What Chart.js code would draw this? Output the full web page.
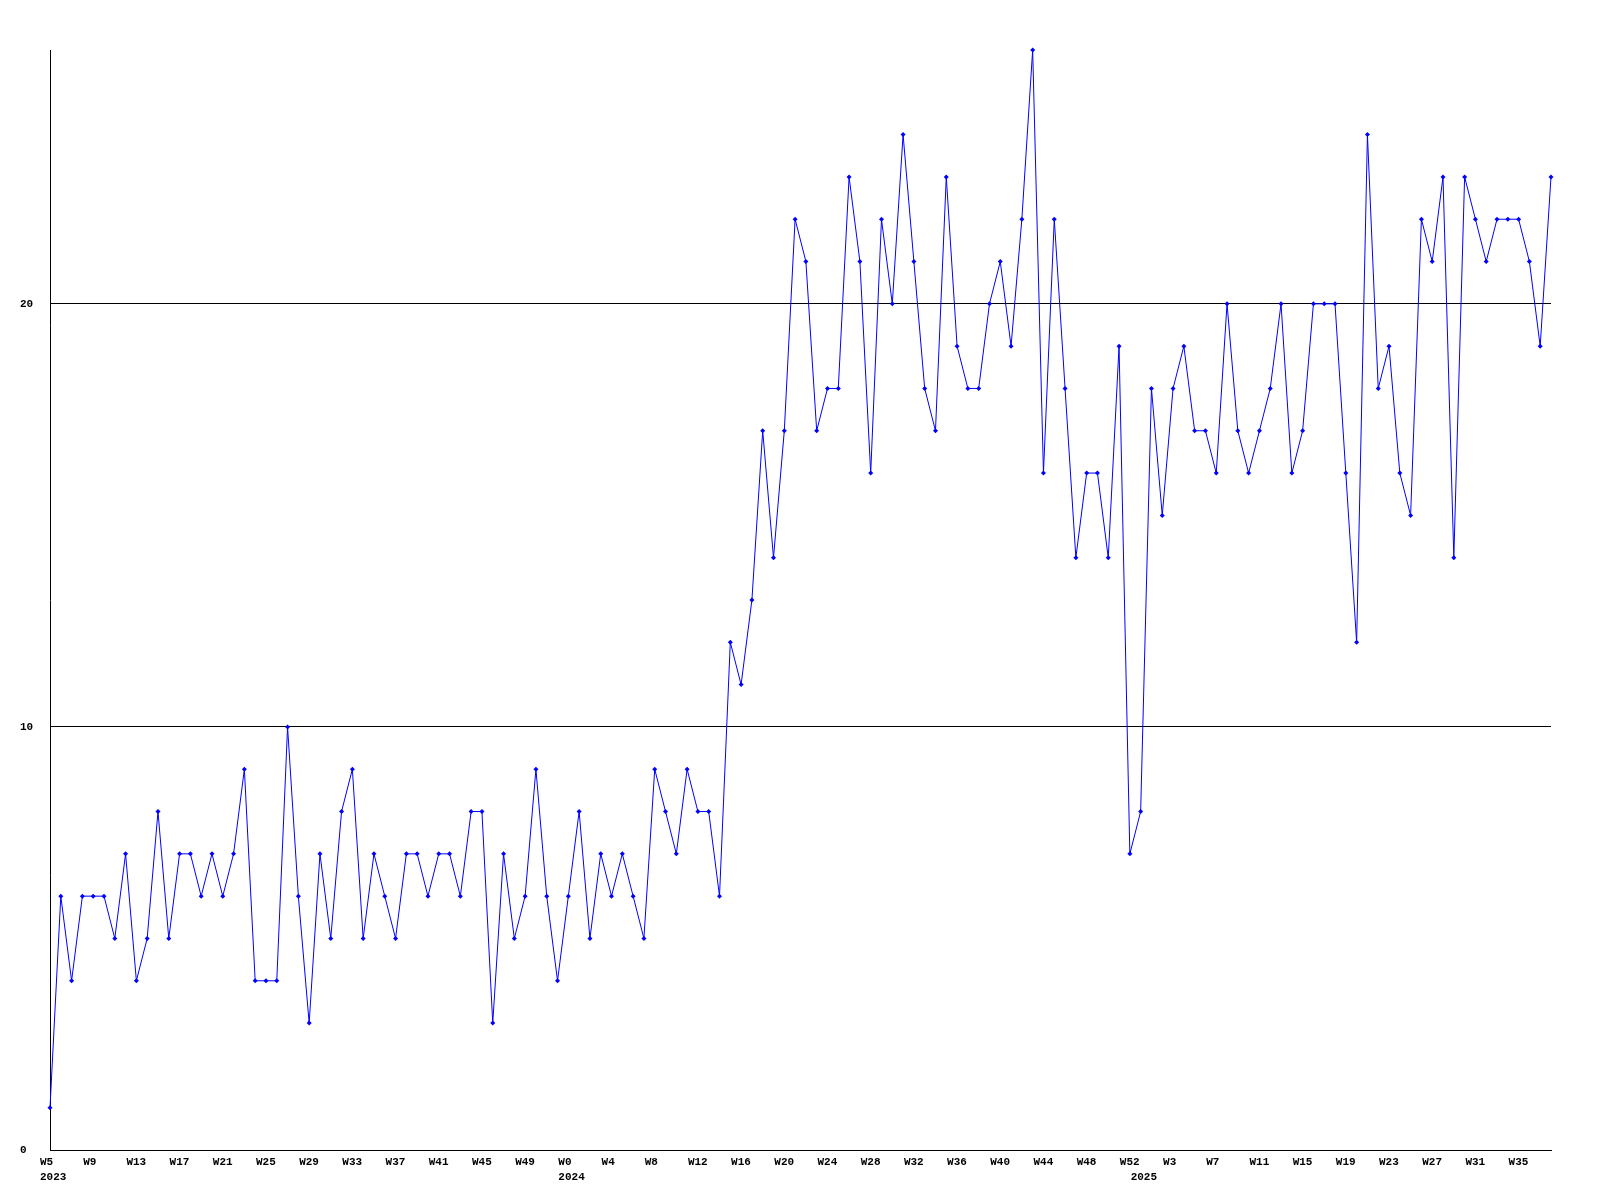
<!DOCTYPE html>
<html>
<head>
<meta charset="utf-8">
<title>Weekly count</title>
<script src="https://cdn.jsdelivr.net/npm/chart.js@4/dist/chart.umd.min.js"></script>
<style>
    body { margin: 0; background: #fff; }
    canvas { display: block; }
</style>
</head>
<body>
<canvas id="weeklyChart" width="1600" height="1200"></canvas>
<script>
// Weeks covered per year
const years = ['2023', '2024', '2025'];
const firstWeek = [5, 0, 0];
const lastWeek = [52, 52, 38];

// Weekly values, one array per year
const values2023 = [1, 6, 4, 6, 6, 6, 5, 7, 4, 5, 8, 5, 7, 7, 6, 7, 6, 7, 9, 4,
    4, 4, 10, 6, 3, 7, 5, 8, 9, 5, 7, 6, 5, 7, 7, 6, 7, 7, 6, 8,
    8, 3, 7, 5, 6, 9, 6, 4];
const values2024 = [6, 8, 5, 7, 6, 7, 6, 5, 9, 8, 7, 9, 8, 8, 6, 12, 11, 13, 17, 14,
    17, 22, 21, 17, 18, 18, 23, 21, 16, 22, 20, 24, 21, 18, 17, 23, 19, 18, 18, 20,
    21, 19, 22, 26, 16, 22, 18, 14, 16, 16, 14, 19, 7];
const values2025 = [8, 18, 15, 18, 19, 17, 17, 16, 20, 17, 16, 17, 18, 20, 16, 17, 20, 20, 20, 16,
    12, 24, 18, 19, 16, 15, 22, 21, 23, 14, 23, 22, 21, 22, 22, 22, 21, 19, 23];

// y axis ticks
const yTicks = [0, 10, 20];
const yMax = 26;

// build week labels + the year shown under the first week of each year
const weekLabels = [];
const yearLabels = [];
years.forEach((y, n) => {
    for (let w = firstWeek[n]; w <= lastWeek[n]; w++) {
        weekLabels.push('W' + w);
        yearLabels.push(w === firstWeek[n] ? y : '');
    }
});
const values = values2023.concat(values2024, values2025);

const tickFont = { family: '"Liberation Mono", "DejaVu Sans Mono", monospace', size: 11, weight: 'bold', lineHeight: '15px' };

new Chart(document.getElementById('weeklyChart'), {
    type: 'line',
    data: {
        labels: weekLabels,
        datasets: [{
            data: values,
            borderColor: '#0000ff',
            backgroundColor: '#0000ff',
            borderWidth: 1,
            tension: 0,
            pointStyle: 'rectRot',
            pointRadius: 2.5,
            pointBorderWidth: 0,
            pointHoverRadius: 2.5,
            clip: false
        }]
    },
    options: {
        responsive: false,
        devicePixelRatio: 1,
        animation: false,
        events: [],
        layout: { padding: { top: 50, right: 49, bottom: 0, left: 20 } },
        plugins: {
            legend: { display: false },
            title: { display: false },
            tooltip: { enabled: false }
        },
        scales: {
            x: {
                type: 'category',
                offset: false,
                grid: { display: false, drawTicks: false },
                border: { display: true, color: '#000', width: 1 },
                ticks: {
                    autoSkip: false,
                    maxRotation: 0,
                    minRotation: 0,
                    align: 'start',
                    labelOffset: -10,
                    padding: 5,
                    color: '#000',
                    font: tickFont,
                    callback: function (value, index) {
                        const week = index % 4 === 0 ? weekLabels[index] : '';
                        if (yearLabels[index]) return [week, yearLabels[index]];
                        return week;
                    }
                },
                afterFit: function (scale) { scale.height = 50; }
            },
            y: {
                min: 0,
                max: yMax,
                grid: { display: true, color: '#000', lineWidth: 1, drawTicks: false },
                border: { display: true, color: '#000', width: 1 },
                afterBuildTicks: function (axis) {
                    axis.ticks = yTicks.map(v => ({ value: v }));
                },
                ticks: {
                    crossAlign: 'far',
                    padding: 0,
                    color: '#000',
                    font: tickFont
                },
                afterFit: function (scale) { scale.width = 30; }
            }
        }
    }
});
</script>
</body>
</html>
